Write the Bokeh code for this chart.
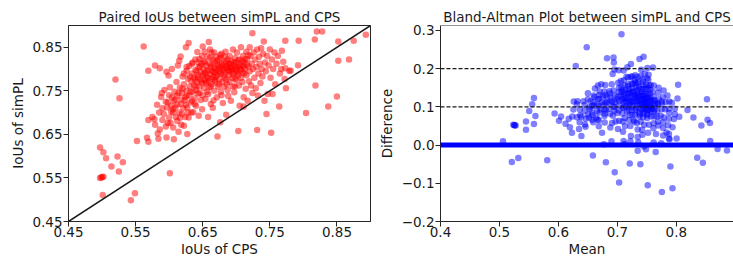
import numpy as np
from bokeh.plotting import figure
from bokeh.layouts import row
from bokeh.models import FixedTicker, Span, Slope, Range1d
from bokeh.embed import file_html
from bokeh.resources import INLINE

# ---- data: paired IoUs ----
cps = [
    0.562, 0.520, 0.526, 0.497, 0.502, 0.506, 0.523, 0.514, 0.531, 0.525, 0.499, 0.502, 0.497, 0.500,
    0.501, 0.549, 0.543, 0.601, 0.552, 0.567, 0.569, 0.569, 0.578, 0.569, 0.579, 0.586,
    0.820, 0.828, 0.773, 0.793, 0.817, 0.852, 0.875, 0.893, 0.852, 0.868, 0.792, 0.818, 0.850, 0.837,
    0.804, 0.754, 0.774, 0.772, 0.773, 0.779, 0.781, 0.792,
    0.575, 0.579, 0.582, 0.585, 0.583, 0.588, 0.586, 0.590, 0.589, 0.584,
    0.592, 0.593, 0.595, 0.596, 0.597, 0.598, 0.600, 0.601, 0.602, 0.603, 0.604, 0.599, 0.604, 0.596,
    0.606, 0.607, 0.607, 0.608, 0.609, 0.610, 0.611, 0.612, 0.612, 0.613, 0.614, 0.615, 0.615, 0.616,
    0.617, 0.617, 0.618, 0.619, 0.619, 0.620,
    0.621, 0.622, 0.622, 0.623, 0.624, 0.624, 0.625, 0.626, 0.626, 0.627, 0.627, 0.628, 0.629, 0.629,
    0.630, 0.630, 0.631, 0.632, 0.633, 0.633, 0.634, 0.634, 0.635, 0.635,
    0.636, 0.637, 0.637, 0.638, 0.639, 0.639, 0.640, 0.640, 0.641, 0.642, 0.642, 0.643, 0.644, 0.644,
    0.645, 0.645, 0.646, 0.647, 0.647, 0.648, 0.649, 0.649, 0.650, 0.650, 0.650,
    0.651, 0.652, 0.652, 0.653, 0.654, 0.654, 0.655, 0.655, 0.656, 0.657, 0.657, 0.658, 0.658, 0.659,
    0.659, 0.660, 0.660, 0.661, 0.662, 0.662, 0.663, 0.663, 0.664, 0.664, 0.665, 0.665,
    0.666, 0.667, 0.667, 0.668, 0.668, 0.669, 0.670, 0.670, 0.671, 0.671, 0.672, 0.672, 0.673, 0.674,
    0.674, 0.675, 0.676, 0.676, 0.677, 0.677, 0.678, 0.678, 0.679, 0.680, 0.680,
    0.681, 0.682, 0.682, 0.683, 0.684, 0.684, 0.685, 0.685, 0.686, 0.687, 0.687, 0.688, 0.689, 0.689,
    0.690, 0.690, 0.691, 0.692, 0.692, 0.693, 0.694, 0.694, 0.695, 0.695,
    0.696, 0.697, 0.697, 0.698, 0.699, 0.700, 0.700, 0.701, 0.702, 0.703, 0.703, 0.704, 0.705, 0.705,
    0.706, 0.707, 0.707, 0.708, 0.709, 0.710, 0.710,
    0.711, 0.711, 0.712, 0.713, 0.714, 0.715, 0.715, 0.716, 0.717, 0.718, 0.719, 0.720, 0.720, 0.721,
    0.722, 0.723, 0.724, 0.724, 0.725,
    0.726, 0.727, 0.728, 0.729, 0.730, 0.731, 0.731, 0.732, 0.733, 0.734, 0.735, 0.736, 0.737, 0.738,
    0.739, 0.740,
    0.741, 0.742, 0.743, 0.744, 0.745, 0.746, 0.747, 0.748, 0.750, 0.751, 0.752, 0.753, 0.755, 0.757,
    0.758, 0.760, 0.762, 0.764, 0.765, 0.767, 0.768, 0.770,
    0.641, 0.643, 0.646, 0.648, 0.651, 0.653, 0.656, 0.658, 0.661, 0.663, 0.666, 0.669, 0.671, 0.673,
    0.675, 0.677, 0.679, 0.681, 0.683, 0.685, 0.687, 0.689, 0.691, 0.693, 0.695, 0.697, 0.699, 0.701,
    0.703, 0.705, 0.707, 0.709, 0.711, 0.713, 0.716, 0.718,
    0.622, 0.626, 0.631, 0.634, 0.638, 0.644, 0.649, 0.653, 0.661, 0.667, 0.676, 0.683,
    0.655, 0.662, 0.668, 0.674, 0.686, 0.698, 0.703, 0.712,
    0.640, 0.632, 0.626, 0.618, 0.612, 0.606, 0.628, 0.638, 0.645, 0.658, 0.666, 0.678, 0.688, 0.698,
    0.590, 0.595, 0.600, 0.603, 0.609, 0.614, 0.620, 0.625, 0.616, 0.598, 0.606,
]
simpl = [
    0.852, 0.776, 0.733, 0.620, 0.609, 0.595, 0.599, 0.576, 0.586, 0.565, 0.551, 0.553, 0.550, 0.552,
    0.511, 0.515, 0.499, 0.561, 0.635, 0.642, 0.633, 0.683, 0.685, 0.796, 0.808, 0.802,
    0.886, 0.886, 0.865, 0.865, 0.868, 0.863, 0.865, 0.879, 0.819, 0.822, 0.809, 0.762, 0.737, 0.714,
    0.699, 0.743, 0.756, 0.777, 0.802, 0.796, 0.796, 0.912,
    0.690, 0.672, 0.718, 0.700, 0.652, 0.736, 0.661, 0.683, 0.745, 0.640,
    0.697, 0.752, 0.668, 0.643, 0.712, 0.724, 0.689, 0.758, 0.676, 0.702, 0.735, 0.785, 0.800, 0.794,
    0.666, 0.639, 0.727, 0.748, 0.712, 0.690, 0.770, 0.681, 0.739, 0.808, 0.656, 0.819, 0.700, 0.757,
    0.720, 0.829, 0.672, 0.697, 0.745, 0.783,
    0.710, 0.670, 0.765, 0.728, 0.735, 0.690, 0.850, 0.751, 0.796, 0.651, 0.712, 0.778, 0.860, 0.689,
    0.740, 0.807, 0.760, 0.724, 0.772, 0.700, 0.727, 0.790, 0.815, 0.748,
    0.701, 0.763, 0.780, 0.733, 0.798, 0.822, 0.752, 0.716, 0.770, 0.839, 0.786, 0.744, 0.693, 0.805,
    0.760, 0.823, 0.776, 0.729, 0.793, 0.812, 0.708, 0.768, 0.852, 0.785, 0.740,
    0.800, 0.756, 0.818, 0.776, 0.791, 0.731, 0.808, 0.767, 0.783, 0.829, 0.748, 0.797, 0.690, 0.862,
    0.772, 0.813, 0.758, 0.788, 0.804, 0.720, 0.778, 0.838, 0.795, 0.765, 0.711, 0.822,
    0.781, 0.803, 0.750, 0.792, 0.815, 0.770, 0.828, 0.799, 0.735, 0.785, 0.645, 0.810, 0.760, 0.796,
    0.822, 0.776, 0.805, 0.678, 0.790, 0.748, 0.835, 0.812, 0.770, 0.800, 0.722,
    0.786, 0.815, 0.760, 0.803, 0.792, 0.840, 0.695, 0.776, 0.808, 0.822, 0.752, 0.798, 0.785, 0.812,
    0.770, 0.830, 0.805, 0.727, 0.795, 0.818, 0.780, 0.802, 0.845, 0.760,
    0.810, 0.747, 0.792, 0.825, 0.800, 0.775, 0.815, 0.838, 0.790, 0.805, 0.658, 0.762, 0.716, 0.822,
    0.797, 0.780, 0.850, 0.808, 0.770, 0.830, 0.792,
    0.735, 0.714, 0.815, 0.800, 0.755, 0.840, 0.786, 0.822, 0.727, 0.806, 0.772, 0.850, 0.795, 0.830,
    0.762, 0.812, 0.882, 0.745, 0.800,
    0.838, 0.780, 0.822, 0.756, 0.805, 0.660, 0.845, 0.739, 0.790, 0.828, 0.812, 0.768, 0.848, 0.800,
    0.783, 0.835,
    0.863, 0.727, 0.815, 0.795, 0.697, 0.830, 0.743, 0.808, 0.845, 0.780, 0.654, 0.822, 0.800, 0.838,
    0.765, 0.812, 0.830, 0.714, 0.790, 0.800, 0.842, 0.817,
    0.795, 0.781, 0.806, 0.772, 0.788, 0.815, 0.796, 0.780, 0.826, 0.809, 0.793, 0.781, 0.818, 0.803,
    0.790, 0.826, 0.808, 0.797, 0.780, 0.818, 0.805, 0.795, 0.813, 0.800, 0.788, 0.815, 0.806, 0.796,
    0.820, 0.808, 0.800, 0.818, 0.806, 0.823, 0.810, 0.832,
    0.790, 0.805, 0.783, 0.812, 0.776, 0.815, 0.830, 0.840, 0.845, 0.838, 0.832, 0.828,
    0.770, 0.760, 0.775, 0.765, 0.765, 0.778, 0.785, 0.790,
    0.760, 0.748, 0.738, 0.730, 0.718, 0.708, 0.700, 0.720, 0.745, 0.742, 0.728, 0.740, 0.738, 0.760,
    0.710, 0.725, 0.740, 0.716, 0.730, 0.745, 0.755, 0.718, 0.688, 0.676, 0.700,
]

left_title = "Paired IoUs between simPL and CPS"
right_title = "Bland-Altman Plot between simPL and CPS"
left_xlabel = "IoUs of CPS"
left_ylabel = "IoUs of simPL"
right_xlabel = "Mean"
right_ylabel = "Difference"

left_ticks = [0.45, 0.55, 0.65, 0.75, 0.85]
left_tick_labels = ["0.45", "0.55", "0.65", "0.75", "0.85"]
right_xticks = [0.4, 0.5, 0.6, 0.7, 0.8]
right_xtick_labels = ["0.4", "0.5", "0.6", "0.7", "0.8"]
right_yticks = [-0.2, -0.1, 0.0, 0.1, 0.2, 0.3]
right_ytick_labels = ["\u22120.2", "\u22120.1", "0.0", "0.1", "0.2", "0.3"]

zero_line = 0.0
dashed_lines = [0.1, 0.2]

cps_a = np.array(cps)
simpl_a = np.array(simpl)
ba_mean = (cps_a + simpl_a) / 2.0
ba_diff = simpl_a - cps_a

FONT = "DejaVu Sans"
TXT = "#1a1a1a"
EDGE = "#262626"


def style(p, xticks, xlabels, yticks, ylabels):
    p.xgrid.visible = False
    p.ygrid.visible = False
    p.background_fill_color = "white"
    p.border_fill_color = "white"
    p.title.text_font = FONT
    p.title.text_font_size = "13.5px"
    p.title.text_font_style = "normal"
    p.title.text_color = TXT
    p.title.align = "center"
    p.title.standoff = 2
    for ax, t, lab in ((p.xaxis[0], xticks, xlabels), (p.yaxis[0], yticks, ylabels)):
        ax.ticker = FixedTicker(ticks=t)
        ax.major_label_overrides = {tv: tl for tv, tl in zip(t, lab)}
        ax.major_tick_out = 5
        ax.major_tick_in = 0
        ax.minor_tick_out = 0
        ax.minor_tick_in = 0
        ax.major_tick_line_color = EDGE
        ax.axis_line_color = EDGE
        ax.major_label_text_font = FONT
        ax.major_label_text_font_size = "13.5px"
        ax.major_label_text_color = TXT
        ax.axis_label_text_font = FONT
        ax.axis_label_text_font_size = "13.5px"
        ax.axis_label_text_font_style = "normal"
        ax.axis_label_text_color = TXT
    p.xaxis[0].major_label_standoff = 0
    p.xaxis[0].axis_label_standoff = 1
    p.yaxis[0].major_label_standoff = 1
    p.yaxis[0].axis_label_standoff = 3


H = 260
p1 = figure(width=372, height=H, x_range=Range1d(0.45, 0.90), y_range=Range1d(0.45, 0.90),
            output_backend="svg", toolbar_location=None, title=left_title,
            min_border_left=68, min_border_right=2, min_border_top=25, min_border_bottom=39)
p1.xaxis.axis_label = left_xlabel
p1.yaxis.axis_label = left_ylabel
style(p1, left_ticks, left_tick_labels, left_ticks, left_tick_labels)
p1.outline_line_color = EDGE
p1.outline_line_width = 1
p1.scatter(cps, simpl, size=6.5, fill_color="red", fill_alpha=0.5, line_color=None)
p1.add_layout(Slope(gradient=1, y_intercept=0, line_color="#1a1a1a", line_width=1.5))

ry0, ry1 = -0.2, 0.313
p2 = figure(width=361, height=H, x_range=Range1d(0.4, 0.897), y_range=Range1d(ry0, ry1),
            output_backend="svg", toolbar_location=None, title=right_title,
            min_border_left=68, min_border_right=0, min_border_top=25, min_border_bottom=39)
p2.xaxis.axis_label = right_xlabel
p2.yaxis.axis_label = right_ylabel
style(p2, right_xticks, right_xtick_labels, right_yticks, right_ytick_labels)
p2.yaxis[0].axis_label_standoff = 4
p2.outline_line_color = None
p2.add_layout(Span(location=ry1, dimension="width", line_color=EDGE, line_width=1))
p2.scatter(ba_mean, ba_diff, size=6.5, fill_color="blue", fill_alpha=0.5, line_color=None)
p2.add_layout(Span(location=zero_line, dimension="width", line_color="blue", line_width=5))
for lv in dashed_lines:
    p2.add_layout(Span(location=lv, dimension="width", line_color="#1a1a1a", line_width=1.2, line_dash="4 2"))

layout = row(p1, p2)
open("out.html", "w").write(file_html(layout, INLINE))
